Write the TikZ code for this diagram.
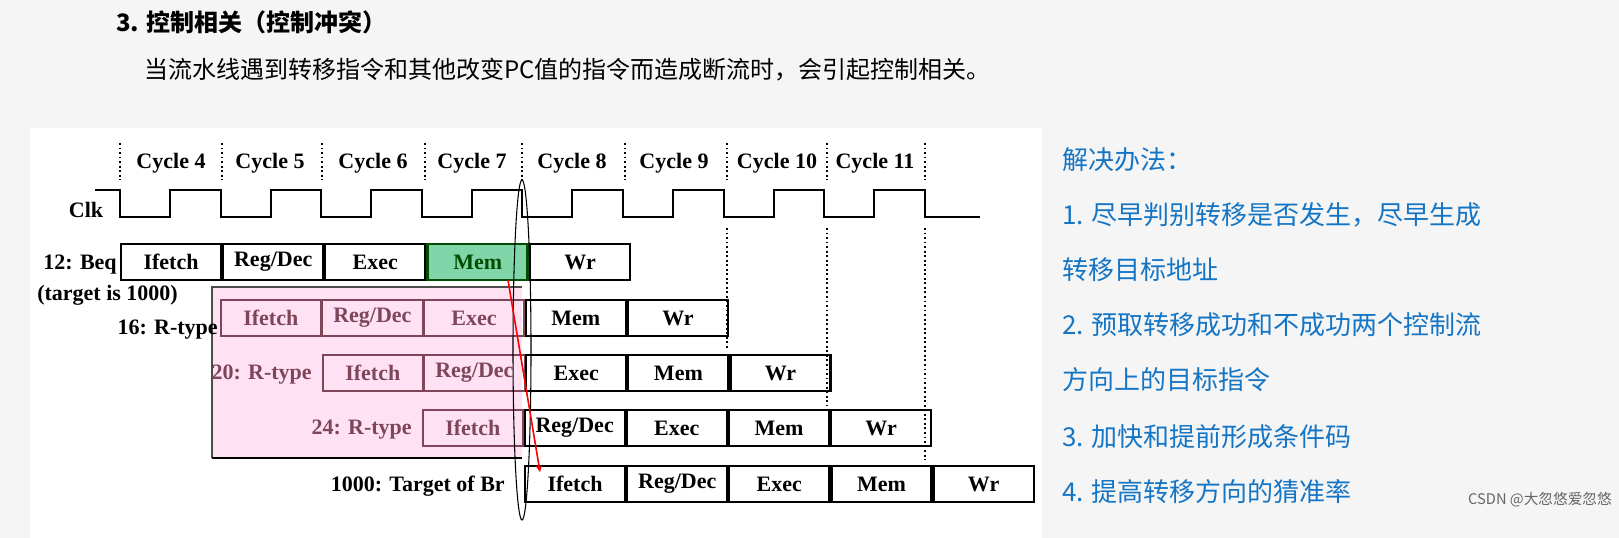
\documentclass[tikz,border=0pt]{standalone}
\usepackage{fontspec}
\setmainfont{Liberation Serif}
\newfontfamily\cjk{Noto Sans CJK SC}
\colorlet{pktext}{black!35!purple!45!gray}
\begin{document}
\begin{tikzpicture}[x=0.75pt,y=-0.75pt,
  stg/.style={draw=black,line width=1.6pt,minimum width=100*0.75pt,minimum height=36*0.75pt,anchor=west,inner sep=0pt,font=\fontsize{16.5}{16.5}\bfseries},
  pk/.style={stg,draw=pktext,line width=1.2pt,text=pktext},
  lab/.style={font=\fontsize{16.5}{16.5}\bfseries,inner sep=0pt},
  cyc/.style={font=\fontsize{16.5}{16.5}\bfseries,inner sep=0pt},
  dot/.style={dotted,line width=1.4pt},
  blue/.style={text=cyan!55!blue,font=\cjk\fontsize{19.5}{19.5}\selectfont,anchor=west,inner sep=0pt}]
\fill[black!4] (0,0) rectangle (1619,538);
\useasboundingbox (0,0) rectangle (1619,538);
\fill[white] (30,128) rectangle (1042,538);
\node[anchor=west,inner sep=0pt,font=\cjk\bfseries\fontsize{18}{18}\selectfont] (title) at (116,22) {3. 控制相关（控制冲突）};
\node[anchor=west,inner sep=0pt,font=\cjk\fontsize{18}{18}\selectfont] (sub) at (144,70) {当流水线遇到转移指令和其他改变PC值的指令而造成断流时，会引起控制相关。};
% pink region
\fill[pink!70!magenta!25] (212,287) rectangle (522,458);
\draw[black!70,line width=0.8pt] (212,458) -- (212,287) -- (522,287);
\draw[black,line width=1.2pt] (212,458) -- (522,458);
% cycle boundaries
\foreach \x in {120,222,322,425,522,625,727,827,925}{\draw[dot] (\x,143) -- (\x,180);}
\foreach \x in {727,827,925}{\draw[dot] (\x,228) -- (\x,{\x==727?350:(\x==827?405:460)});}
\foreach \t/\x in {4/171,5/270,6/373,7/472,8/572,9/674,10/777,11/875}{\node[cyc] (c\t) at (\x,163) {Cycle \t};}
% clock
\draw[line width=1.6pt] (95,190) -- (120,190) -- (120,217)
  \foreach \i in {0,...,7}{ -- ({120+\i*100.6+50},217) -- ({120+\i*100.6+50},190) -- ({120+(\i+1)*100.6},190) -- ({120+(\i+1)*100.6},217)} -- (980,217);
\node[lab] (clk) at (86,210) {Clk};
% rows
\node[stg] (a1) at (120,262) {Ifetch};
\node[stg] (a2) at (a1.east) {Reg/Dec};
\node[stg] (a3) at (a2.east) {Exec};
\node[stg,fill=green!35!teal!50,draw=green!30!black,line width=2pt,text=green!30!black] (a4) at (a3.east) {Mem};
\node[stg] (a5) at (a4.east) {Wr};
\node[lab,anchor=east] (l1) at (117,265) {12: Beq};
\node[lab,anchor=west] (l1b) at (37,295) {(target is 1000)};
\node[pk] (b1) at (220,318) {Ifetch};
\node[pk] (b2) at (b1.east) {Reg/Dec};
\node[pk] (b3) at (b2.east) {Exec};
\node[stg] (b4) at (b3.east) {Mem};
\node[stg] (b5) at (b4.east) {Wr};
\node[lab,anchor=east] (l2) at (218,330) {16: R-type};
\node[pk] (d1) at (322,373) {Ifetch};
\node[pk] (d2) at (d1.east) {Reg/Dec};
\node[stg] (d3) at (d2.east) {Exec};
\node[stg] (d4) at (d3.east) {Mem};
\node[stg] (d5) at (d4.east) {Wr};
\node[lab,anchor=east,text=pktext] (l3) at (312,375) {20: R-type};
\node[pk] (e1) at (422,428) {Ifetch};
\node[stg] (e2) at (e1.east) {Reg/Dec};
\node[stg] (e3) at (e2.east) {Exec};
\node[stg] (e4) at (e3.east) {Mem};
\node[stg] (e5) at (e4.east) {Wr};
\node[lab,anchor=east,text=pktext] (l4) at (412,430) {24: R-type};
\node[stg] (f1) at (524,484) {Ifetch};
\node[stg] (f2) at (f1.east) {Reg/Dec};
\node[stg] (f3) at (f2.east) {Exec};
\node[stg] (f4) at (f3.east) {Mem};
\node[stg] (f5) at (f4.east) {Wr};
\node[lab,anchor=east] (l5) at (505,486) {1000: Target of Br};
% ellipse
\draw[line width=0.8pt] (522,350) ellipse (9 and 170);
% red arrow
\coordinate (rs) at (508,280);
\coordinate (re) at (540,472);
\draw[red,line width=1.2pt,-stealth] (rs) -- (re);
% right text
\node[blue] (r0) at (1062,160) {解决办法：};
\node[blue] (r1) at (1062,215) {1. 尽早判别转移是否发生，尽早生成};
\node[blue] (r2) at (1062,270) {转移目标地址};
\node[blue] (r3) at (1062,325) {2. 预取转移成功和不成功两个控制流};
\node[blue] (r4) at (1062,380) {方向上的目标指令};
\node[blue] (r5) at (1062,437) {3. 加快和提前形成条件码};
\node[blue] (r6) at (1062,492) {4. 提高转移方向的猜准率};
\node[anchor=east,inner sep=0pt,text=black!60,font=\cjk\fontsize{11}{11}\selectfont] (wm) at (1612,500) {CSDN @大忽悠爱忽悠};
\end{tikzpicture}
\end{document}
